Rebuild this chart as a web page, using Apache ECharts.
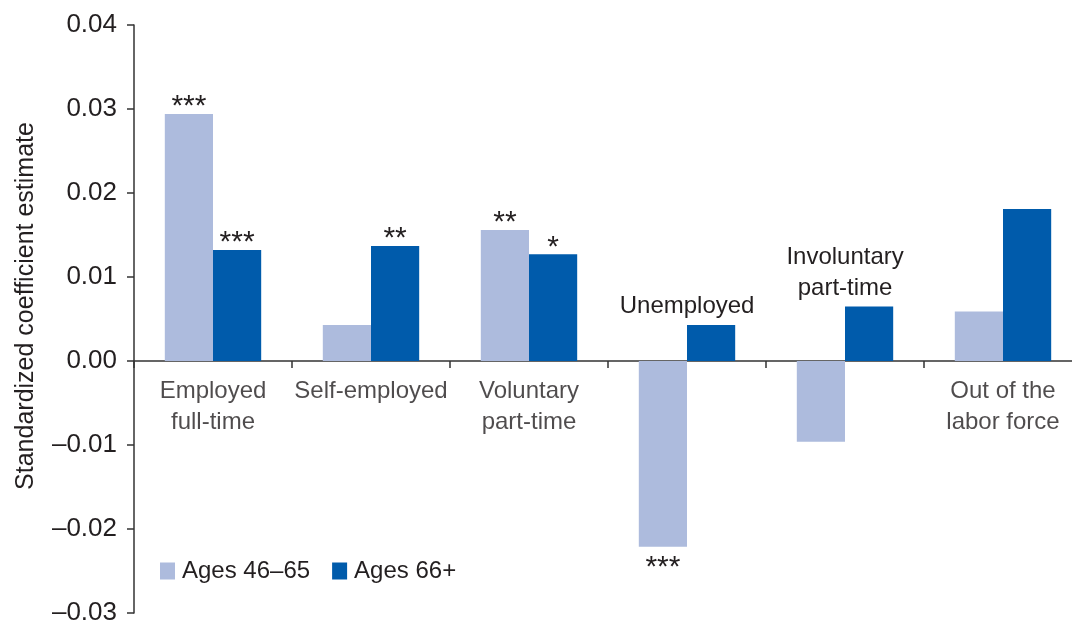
<!DOCTYPE html>
<html>
<head>
<meta charset="utf-8">
<script src="https://cdn.jsdelivr.net/npm/echarts@6/dist/echarts.min.js"></script>
<style>html,body{margin:0;padding:0;background:#fff}#c{width:1072px;height:625px}</style>
</head>
<body>
<div id="c"></div>
<script>
const categories = ['Employed\nfull-time', 'Self-employed', 'Voluntary\npart-time', 'Unemployed', 'Involuntary\npart-time', 'Out of the\nlabor force'];
const labelAboveBars = [false, false, false, true, true, false];
const ages4665 = [0.0294, 0.0043, 0.0156, -0.0221, -0.0096, 0.0059];
const ages66 = [0.0132, 0.0137, 0.0127, 0.0043, 0.0065, 0.0181];
const sig4665 = ['***', '', '**', '***', '', ''];
const sig66 = ['***', '**', '*', '', '', ''];
const seriesNames = ['Ages 46\u201365', 'Ages 66+'];
const yTicks = { min: -0.03, max: 0.04, interval: 0.01 };

const FONT = '"Liberation Sans", Arial, sans-serif';
const TXT = '#231f20';
const LIGHT = '#adbbdd';
const DARK = '#005bab';

function starLabel(s, v) {
  return {
    show: s !== '',
    position: v < 0 ? 'bottom' : 'top',
    distance: 1,
    offset: v < 0 ? [0, 5] : [0, 9],
    formatter: s,
    fontSize: 30,
    lineHeight: 30,
    fontFamily: FONT,
    color: TXT
  };
}

const catLabelStyle = { fontSize: 24, lineHeight: 31, fontFamily: FONT, color: TXT, align: 'center' };

const chart = echarts.init(document.getElementById('c'), null, { renderer: 'canvas' });
chart.setOption({
  animation: false,
  backgroundColor: '#fff',
  textStyle: { fontFamily: FONT, color: TXT },
  grid: { left: 134, right: -10, top: 25, bottom: 12, containLabel: false, outerBoundsMode: 'none' },
  legend: {
    left: 155, top: 554,
    itemWidth: 15, itemHeight: 17, itemGap: 22,
    icon: 'rect',
    textStyle: { fontSize: 24, fontFamily: FONT, color: TXT, padding: [0, 0, 0, 2] },
    data: seriesNames
  },
  xAxis: {
    type: 'category',
    data: categories,
    axisLine: { onZero: true, lineStyle: { color: '#333', width: 1.5 } },
    axisTick: { show: true, length: 7, lineStyle: { color: '#333', width: 1.5 } },
    axisLabel: { show: false }
  },
  yAxis: {
    type: 'value',
    min: yTicks.min, max: yTicks.max, interval: yTicks.interval,
    name: 'Standardized coefficient estimate',
    nameLocation: 'middle',
    nameGap: 95,
    nameTextStyle: { fontSize: 25, fontFamily: FONT, color: TXT, padding: [0, 0, 0, 26] },
    splitLine: { show: false },
    axisLine: { show: true, lineStyle: { color: '#333', width: 1.5 } },
    axisTick: { show: true, length: 7, lineStyle: { color: '#333', width: 1.5 } },
    axisLabel: {
      fontSize: 26, fontFamily: FONT, color: TXT, margin: 17,
      formatter: v => (v < -1e-9 ? '\u2013' : '') + Math.abs(v).toFixed(2)
    }
  },
  series: [
    {
      name: seriesNames[0], type: 'bar', barGap: '0%', barCategoryGap: '39%',
      itemStyle: { color: LIGHT },
      data: ages4665.map((v, i) => ({ value: v, label: starLabel(sig4665[i], v) }))
    },
    {
      name: seriesNames[1], type: 'bar', barGap: '0%', barCategoryGap: '39%',
      itemStyle: { color: DARK },
      data: ages66.map((v, i) => ({
        value: v,
        label: labelAboveBars[i]
          ? Object.assign({ show: true, position: 'top', distance: 3, offset: [-24, 0], formatter: categories[i] }, catLabelStyle)
          : starLabel(sig66[i], v)
      }))
    },
    {
      name: 'category labels', type: 'scatter', silent: true, symbolSize: 0,
      z: 5,
      data: categories.map((c, i) => ({
        value: [i, 0],
        label: Object.assign({ show: !labelAboveBars[i], position: 'bottom', distance: 15, formatter: c }, catLabelStyle)
      }))
    }
  ]
});
</script>
</body>
</html>
